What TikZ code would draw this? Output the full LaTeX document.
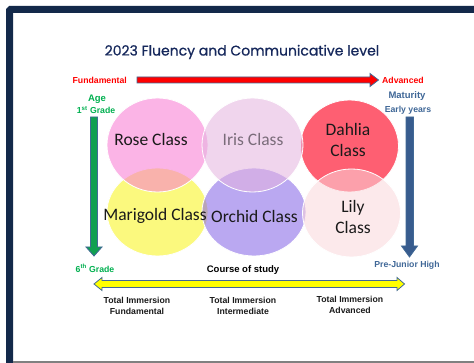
\documentclass[tikz,border=0pt]{standalone}
\usepackage{fontspec}
\setmainfont{Liberation Sans}
\newfontfamily\titlefont[FakeBold=0.7]{Poppins}
\newfontfamily\classfont{Carlito}
\usetikzlibrary{shapes.geometric,calc}
\definecolor{framenavy}{RGB}{19,41,74}
\definecolor{titlenavy}{RGB}{22,40,92}
\definecolor{edgeblue}{RGB}{65,105,150}
\definecolor{labred}{RGB}{255,0,0}
\definecolor{labgreen}{RGB}{0,176,80}
\definecolor{labblue}{RGB}{63,103,151}
\definecolor{arrgreen}{RGB}{16,160,80}
\definecolor{arrblue}{RGB}{56,92,142}
\definecolor{arryellow}{RGB}{255,255,0}
\definecolor{rosec}{RGB}{248,120,210}
\definecolor{irisc}{RGB}{228,180,224}
\definecolor{dahliac}{RGB}{254,95,114}
\definecolor{marigoldc}{RGB}{251,249,126}
\definecolor{orchidc}{RGB}{131,97,230}
\definecolor{lilyc}{RGB}{251,215,219}
\definecolor{txtdark}{RGB}{26,26,26}
\definecolor{irisgray}{RGB}{122,108,122}
\tikzset{
  lab/.style={font=\bfseries\fontsize{8.7}{10.5}\selectfont, inner sep=0pt},
  bigarrow/.style={draw=edgeblue, line width=0.8pt, line join=miter},
  flower/.style={ellipse, draw=white, line width=0.8pt, inner sep=0pt},
  ctext/.style={font=\classfont\fontsize{17.5}{21}\selectfont, text=txtdark, align=center, inner sep=0pt},
}
\begin{document}
\begin{tikzpicture}[x=1pt,y=-1pt]
\useasboundingbox (0,0) rectangle (474,363);
\fill[white] (0,0) rectangle (474,363);
% frame
\draw[framenavy, line width=7pt, rounded corners=1pt] (9.5,370) -- (9.5,9.5) -- (480,9.5);
\draw[gray, line width=1.5pt] (13,362) -- (480,362);

% title
\node[font=\titlefont\fontsize{14}{16}\selectfont, text=titlenavy, inner sep=0pt] (title) at (242,52) {2023 Fluency and Communicative level};

% circles (drawing order matters)
\node[flower, fill=marigoldc, minimum width=101pt, minimum height=88pt] (marigold) at (157.5,212) {};
\node[flower, fill=orchidc, fill opacity=0.55, minimum width=104pt, minimum height=88pt] (orchid) at (254,212) {};
\node[flower, fill=rosec, fill opacity=0.55, minimum width=101pt, minimum height=94pt] (rose) at (157.5,145) {};
\node[flower, fill=dahliac, minimum width=98pt, minimum height=92pt] (dahlia) at (349.5,146) {};
\node[flower, fill=irisc, fill opacity=0.55, minimum width=101pt, minimum height=94pt] (iris) at (252.5,145) {};
\node[flower, fill=lilyc, fill opacity=0.55, minimum width=98pt, minimum height=88pt] (lily) at (351.5,213) {};

% class texts
\node[ctext] (roseT) at (151,139) {Rose Class};
\node[ctext, text=irisgray] (irisT) at (253,139) {Iris Class};
\node[ctext] (dahliaT) at (348,139.5) {Dahlia\\Class};
\node[ctext] (marigoldT) at (155,216) {Marigold Class};
\node[ctext] (orchidT) at (254.5,216) {Orchid Class};
\node[ctext] (lilyT) at (353,217) {Lily\\Class};

% red arrow
\coordinate (redL) at (137,80);
\coordinate (redR) at (378.5,80);
\draw[bigarrow, fill=labred] ($(redL)+(0,-3)$) -- (370,77) -- (370,73.5) -- (redR) -- (370,86.5) -- (370,83) -- ($(redL)+(0,3)$) -- cycle;
\node[lab, text=labred, anchor=east] (fund) at (127,80) {Fundamental};
\node[lab, text=labred, anchor=west] (adv) at (382,80) {Advanced};

% green arrow
\draw[bigarrow, fill=arrgreen] (90.5,117) -- (97.5,117) -- (97.5,247) -- (102,247) -- (94,256) -- (86,247) -- (90.5,247) -- cycle;
\node[lab, text=labgreen, font=\bfseries\fontsize{9.5}{11}\selectfont] (age) at (97,99) {Age};
\node[lab, text=labgreen] (first) at (96,110) {1\textsuperscript{st} Grade};
\node[lab, text=labgreen] (sixth) at (95,268) {6\textsuperscript{th} Grade};

% blue arrow
\draw[bigarrow, fill=arrblue] (406,117) -- (413.5,117) -- (413.5,246) -- (417.5,246) -- (409.5,257) -- (401.5,246) -- (406,246) -- cycle;
\node[lab, text=labblue, font=\bfseries\fontsize{9.5}{11}\selectfont] (mat) at (407,96) {Maturity};
\node[lab, text=labblue] (early) at (408,110) {Early years};
\node[lab, text=labblue] (prej) at (407,265) {Pre-Junior High};

% yellow double arrow
\draw[bigarrow, fill=arryellow] (94,284) -- (102,277.5) -- (102,280.5) -- (397,280.5) -- (397,277.5) -- (404.5,284) -- (397,290.5) -- (397,287.5) -- (102,287.5) -- (102,290.5) -- cycle;
\node[lab, text=black, font=\bfseries\fontsize{9.5}{11}\selectfont] (course) at (243,270) {Course of study};

% bottom labels
\node[lab, text=txtdark, align=center] (tif) at (137,306) {Total Immersion\\Fundamental};
\node[lab, text=txtdark, align=center] (tii) at (243,306) {Total Immersion\\Intermediate};
\node[lab, text=txtdark, align=center] (tia) at (350,305) {Total Immersion\\Advanced};
\end{tikzpicture}
\end{document}
